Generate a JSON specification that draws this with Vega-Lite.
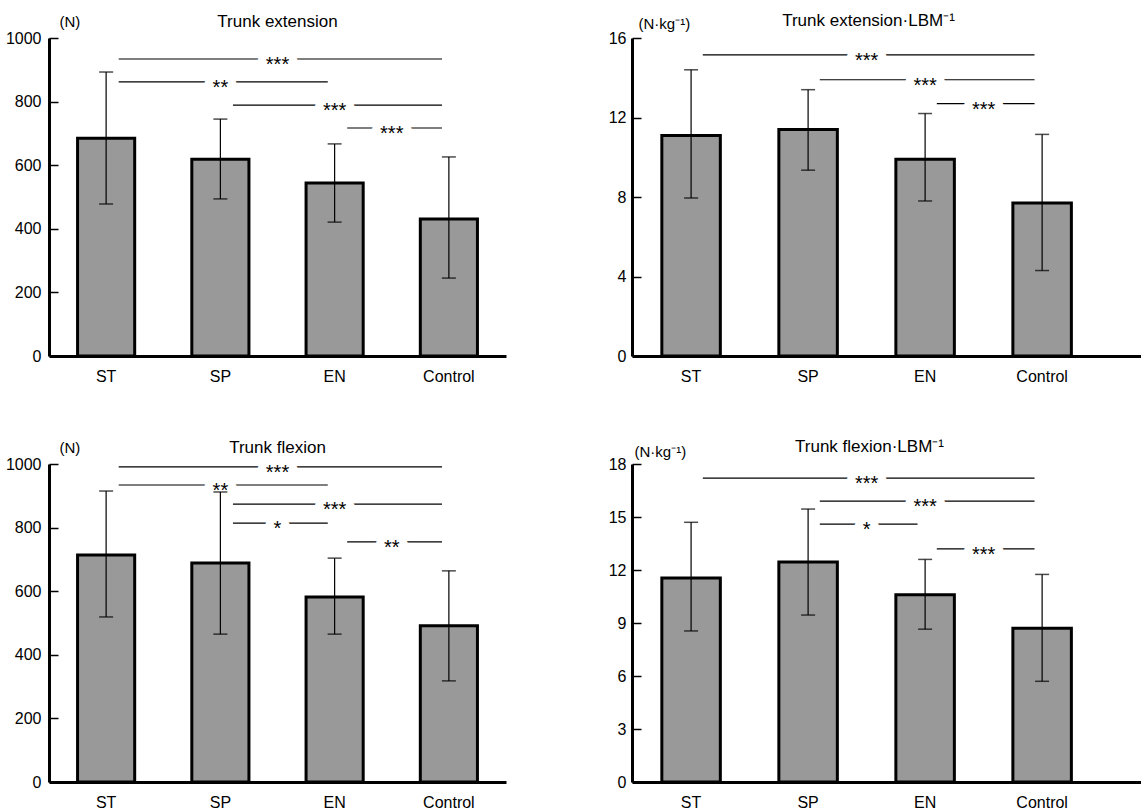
{
  "$schema": "https://vega.github.io/schema/vega-lite/v6.json",
  "padding": {"left": 5, "top": 12, "right": 0, "bottom": 0},
  "background": "white",
  "config": {
    "font": "Liberation Sans",
    "view": {"stroke": null},
    "axis": {"labelFontSize": 16, "labelColor": "black", "domainColor": "black", "tickColor": "black", "grid": false, "titleColor": "black", "titleFontWeight": "normal", "titleFontSize": 15},
    "axisY": {"domainWidth": 3, "tickSize": -9, "tickWidth": 1.5, "labelPadding": 17, "format": "d"},
    "axisX": {"domainWidth": 3, "ticks": false, "labelAngle": 0, "labelPadding": 12, "labelFontSize": 16},
    "title": {"fontSize": 17, "fontWeight": "normal", "color": "black", "baseline": "alphabetic", "frame": "group"},
    "text": {"baseline": "alphabetic"}
  },
  "datasets": {
    "bars": [
      {"panel": "ext", "group": "ST", "mean": 685, "lo": 478, "hi": 893},
      {"panel": "ext", "group": "SP", "mean": 619, "lo": 494, "hi": 745},
      {"panel": "ext", "group": "EN", "mean": 544, "lo": 421, "hi": 667},
      {"panel": "ext", "group": "Control", "mean": 431, "lo": 245, "hi": 626},
      {"panel": "extLBM", "group": "ST", "mean": 11.1, "lo": 7.95, "hi": 14.4},
      {"panel": "extLBM", "group": "SP", "mean": 11.4, "lo": 9.35, "hi": 13.4},
      {"panel": "extLBM", "group": "EN", "mean": 9.9, "lo": 7.8, "hi": 12.2},
      {"panel": "extLBM", "group": "Control", "mean": 7.7, "lo": 4.3, "hi": 11.15},
      {"panel": "flex", "group": "ST", "mean": 714, "lo": 519, "hi": 915},
      {"panel": "flex", "group": "SP", "mean": 689, "lo": 465, "hi": 912},
      {"panel": "flex", "group": "EN", "mean": 582, "lo": 465, "hi": 704},
      {"panel": "flex", "group": "Control", "mean": 491, "lo": 318, "hi": 664},
      {"panel": "flexLBM", "group": "ST", "mean": 11.55, "lo": 8.55, "hi": 14.7},
      {"panel": "flexLBM", "group": "SP", "mean": 12.45, "lo": 9.45, "hi": 15.45},
      {"panel": "flexLBM", "group": "EN", "mean": 10.6, "lo": 8.65, "hi": 12.6},
      {"panel": "flexLBM", "group": "Control", "mean": 8.7, "lo": 5.7, "hi": 11.75}
    ],
    "sig": [
      {"panel": "ext", "from": "ST", "to": "Control", "level": 934, "label": "***", "textAt": "SP", "between": true},
      {"panel": "ext", "from": "ST", "to": "EN", "level": 862, "label": "**", "textAt": "SP", "between": false},
      {"panel": "ext", "from": "SP", "to": "Control", "level": 789, "label": "***", "textAt": "EN", "between": false},
      {"panel": "ext", "from": "EN", "to": "Control", "level": 717, "label": "***", "textAt": "EN", "between": true},
      {"panel": "extLBM", "from": "ST", "to": "Control", "level": 15.15, "label": "***", "textAt": "SP", "between": true},
      {"panel": "extLBM", "from": "SP", "to": "Control", "level": 13.9, "label": "***", "textAt": "EN", "between": false},
      {"panel": "extLBM", "from": "EN", "to": "Control", "level": 12.7, "label": "***", "textAt": "EN", "between": true},
      {"panel": "flex", "from": "ST", "to": "Control", "level": 991, "label": "***", "textAt": "SP", "between": true},
      {"panel": "flex", "from": "ST", "to": "EN", "level": 934, "label": "**", "textAt": "SP", "between": false},
      {"panel": "flex", "from": "SP", "to": "Control", "level": 874, "label": "***", "textAt": "EN", "between": false},
      {"panel": "flex", "from": "SP", "to": "EN", "level": 814, "label": "*", "textAt": "SP", "between": true},
      {"panel": "flex", "from": "EN", "to": "Control", "level": 755, "label": "**", "textAt": "EN", "between": true},
      {"panel": "flexLBM", "from": "ST", "to": "Control", "level": 17.2, "label": "***", "textAt": "SP", "between": true},
      {"panel": "flexLBM", "from": "SP", "to": "Control", "level": 15.9, "label": "***", "textAt": "EN", "between": false},
      {"panel": "flexLBM", "from": "SP", "to": "EN", "level": 14.6, "label": "*", "textAt": "SP", "between": true},
      {"panel": "flexLBM", "from": "EN", "to": "Control", "level": 13.2, "label": "***", "textAt": "EN", "between": true}
    ]
  },
  "columns": 2,
  "align": "each",
  "bounds": "flush",
  "spacing": {"row": 108, "column": 126},
  "concat": [
    {
      "width": 457, "height": 318,
      "title": {"text": "Trunk extension", "offset": -17},
      "layer": [
        {"data": {"name": "bars"}, "transform": [{"filter": "datum.panel === 'ext'"}],
         "mark": {"type": "bar", "fill": "#999999", "stroke": "black", "strokeWidth": 3},
         "encoding": {
           "x": {"field": "group", "type": "nominal", "title": null, "scale": {"domain": ["ST", "SP", "EN", "Control"], "paddingInner": 0.5, "paddingOuter": 0.25}},
           "y": {"field": "mean", "type": "quantitative", "scale": {"domain": [0, 1000], "nice": false},
                 "axis": {"title": "(N)", "titleAngle": 0, "titleX": 10, "titleY": -12, "titleAlign": "left", "titleBaseline": "alphabetic", "values": [0, 200, 400, 600, 800, 1000]}}
         }},
        {"data": {"name": "sig"}, "transform": [{"filter": "datum.panel === 'ext'"}],
         "mark": {"type": "rule", "color": "black", "strokeWidth": 1.2},
         "encoding": {"x": {"field": "from", "type": "nominal", "bandPosition": 0.72}, "x2": {"field": "to", "bandPosition": 0.38}, "y": {"field": "level", "type": "quantitative"}}},
        {"data": {"name": "sig"}, "transform": [{"filter": "datum.panel === 'ext' && !datum.between"}],
         "mark": {"type": "text", "fontSize": 20, "dy": 12, "color": "white", "stroke": "white", "strokeWidth": 16},
         "encoding": {"x": {"field": "textAt", "type": "nominal", "bandPosition": 0.5}, "y": {"field": "level", "type": "quantitative"}, "text": {"field": "label"}}},
        {"data": {"name": "sig"}, "transform": [{"filter": "datum.panel === 'ext' && datum.between"}],
         "mark": {"type": "text", "fontSize": 20, "dy": 12, "color": "white", "stroke": "white", "strokeWidth": 16},
         "encoding": {"x": {"field": "textAt", "type": "nominal", "bandPosition": 1.5}, "y": {"field": "level", "type": "quantitative"}, "text": {"field": "label"}}},
        {"data": {"name": "sig"}, "transform": [{"filter": "datum.panel === 'ext' && !datum.between"}],
         "mark": {"type": "text", "fontSize": 20, "dy": 12, "color": "black"},
         "encoding": {"x": {"field": "textAt", "type": "nominal", "bandPosition": 0.5}, "y": {"field": "level", "type": "quantitative"}, "text": {"field": "label"}}},
        {"data": {"name": "sig"}, "transform": [{"filter": "datum.panel === 'ext' && datum.between"}],
         "mark": {"type": "text", "fontSize": 20, "dy": 12, "color": "black"},
         "encoding": {"x": {"field": "textAt", "type": "nominal", "bandPosition": 1.5}, "y": {"field": "level", "type": "quantitative"}, "text": {"field": "label"}}},
        {"data": {"name": "bars"}, "transform": [{"filter": "datum.panel === 'ext'"}],
         "mark": {"type": "rule", "color": "black", "strokeWidth": 1.2},
         "encoding": {"x": {"field": "group", "type": "nominal"}, "y": {"field": "lo", "type": "quantitative"}, "y2": {"field": "hi"}}},
        {"data": {"name": "bars"}, "transform": [{"filter": "datum.panel === 'ext'"}],
         "mark": {"type": "tick", "color": "black", "size": 14, "thickness": 1.5},
         "encoding": {"x": {"field": "group", "type": "nominal"}, "y": {"field": "lo", "type": "quantitative"}}},
        {"data": {"name": "bars"}, "transform": [{"filter": "datum.panel === 'ext'"}],
         "mark": {"type": "tick", "color": "black", "size": 14, "thickness": 1.5},
         "encoding": {"x": {"field": "group", "type": "nominal"}, "y": {"field": "hi", "type": "quantitative"}}}
      ]
    },
    {
      "width": 509, "height": 318,
      "title": {"text": "Trunk extension·LBM⁻¹", "dx": -18, "offset": -14},
      "layer": [
        {"data": {"name": "bars"}, "transform": [{"filter": "datum.panel === 'extLBM'"}],
         "mark": {"type": "bar", "fill": "#999999", "stroke": "black", "strokeWidth": 3},
         "encoding": {
           "x": {"field": "group", "type": "nominal", "title": null, "scale": {"domain": ["ST", "SP", "EN", "Control"], "paddingInner": 0.5, "paddingOuter": 0.425, "align": 0.3}},
           "y": {"field": "mean", "type": "quantitative", "scale": {"domain": [0, 16], "nice": false},
                 "axis": {"title": "(N·kg⁻¹)", "titleAngle": 0, "titleX": 6, "titleY": -10, "titleAlign": "left", "titleBaseline": "alphabetic", "values": [0, 4, 8, 12, 16], "labelPadding": 15}}
         }},
        {"data": {"name": "sig"}, "transform": [{"filter": "datum.panel === 'extLBM'"}],
         "mark": {"type": "rule", "color": "black", "strokeWidth": 1.2},
         "encoding": {"x": {"field": "from", "type": "nominal", "bandPosition": 0.7}, "x2": {"field": "to", "bandPosition": 0.37}, "y": {"field": "level", "type": "quantitative"}}},
        {"data": {"name": "sig"}, "transform": [{"filter": "datum.panel === 'extLBM' && !datum.between"}],
         "mark": {"type": "text", "fontSize": 20, "dy": 12, "color": "white", "stroke": "white", "strokeWidth": 16},
         "encoding": {"x": {"field": "textAt", "type": "nominal", "bandPosition": 0.5}, "y": {"field": "level", "type": "quantitative"}, "text": {"field": "label"}}},
        {"data": {"name": "sig"}, "transform": [{"filter": "datum.panel === 'extLBM' && datum.between"}],
         "mark": {"type": "text", "fontSize": 20, "dy": 12, "color": "white", "stroke": "white", "strokeWidth": 16},
         "encoding": {"x": {"field": "textAt", "type": "nominal", "bandPosition": 1.5}, "y": {"field": "level", "type": "quantitative"}, "text": {"field": "label"}}},
        {"data": {"name": "sig"}, "transform": [{"filter": "datum.panel === 'extLBM' && !datum.between"}],
         "mark": {"type": "text", "fontSize": 20, "dy": 12, "color": "black"},
         "encoding": {"x": {"field": "textAt", "type": "nominal", "bandPosition": 0.5}, "y": {"field": "level", "type": "quantitative"}, "text": {"field": "label"}}},
        {"data": {"name": "sig"}, "transform": [{"filter": "datum.panel === 'extLBM' && datum.between"}],
         "mark": {"type": "text", "fontSize": 20, "dy": 12, "color": "black"},
         "encoding": {"x": {"field": "textAt", "type": "nominal", "bandPosition": 1.5}, "y": {"field": "level", "type": "quantitative"}, "text": {"field": "label"}}},
        {"data": {"name": "bars"}, "transform": [{"filter": "datum.panel === 'extLBM'"}],
         "mark": {"type": "rule", "color": "black", "strokeWidth": 1.2},
         "encoding": {"x": {"field": "group", "type": "nominal"}, "y": {"field": "lo", "type": "quantitative"}, "y2": {"field": "hi"}}},
        {"data": {"name": "bars"}, "transform": [{"filter": "datum.panel === 'extLBM'"}],
         "mark": {"type": "tick", "color": "black", "size": 14, "thickness": 1.5},
         "encoding": {"x": {"field": "group", "type": "nominal"}, "y": {"field": "lo", "type": "quantitative"}}},
        {"data": {"name": "bars"}, "transform": [{"filter": "datum.panel === 'extLBM'"}],
         "mark": {"type": "tick", "color": "black", "size": 14, "thickness": 1.5},
         "encoding": {"x": {"field": "group", "type": "nominal"}, "y": {"field": "hi", "type": "quantitative"}}}
      ]
    },
    {
      "width": 457, "height": 318,
      "title": {"text": "Trunk flexion", "offset": -17},
      "layer": [
        {"data": {"name": "bars"}, "transform": [{"filter": "datum.panel === 'flex'"}],
         "mark": {"type": "bar", "fill": "#999999", "stroke": "black", "strokeWidth": 3},
         "encoding": {
           "x": {"field": "group", "type": "nominal", "title": null, "scale": {"domain": ["ST", "SP", "EN", "Control"], "paddingInner": 0.5, "paddingOuter": 0.25}},
           "y": {"field": "mean", "type": "quantitative", "scale": {"domain": [0, 1000], "nice": false},
                 "axis": {"title": "(N)", "titleAngle": 0, "titleX": 10, "titleY": -12, "titleAlign": "left", "titleBaseline": "alphabetic", "values": [0, 200, 400, 600, 800, 1000]}}
         }},
        {"data": {"name": "sig"}, "transform": [{"filter": "datum.panel === 'flex'"}],
         "mark": {"type": "rule", "color": "black", "strokeWidth": 1.2},
         "encoding": {"x": {"field": "from", "type": "nominal", "bandPosition": 0.72}, "x2": {"field": "to", "bandPosition": 0.38}, "y": {"field": "level", "type": "quantitative"}}},
        {"data": {"name": "sig"}, "transform": [{"filter": "datum.panel === 'flex' && !datum.between"}],
         "mark": {"type": "text", "fontSize": 20, "dy": 12, "color": "white", "stroke": "white", "strokeWidth": 16},
         "encoding": {"x": {"field": "textAt", "type": "nominal", "bandPosition": 0.5}, "y": {"field": "level", "type": "quantitative"}, "text": {"field": "label"}}},
        {"data": {"name": "sig"}, "transform": [{"filter": "datum.panel === 'flex' && datum.between"}],
         "mark": {"type": "text", "fontSize": 20, "dy": 12, "color": "white", "stroke": "white", "strokeWidth": 16},
         "encoding": {"x": {"field": "textAt", "type": "nominal", "bandPosition": 1.5}, "y": {"field": "level", "type": "quantitative"}, "text": {"field": "label"}}},
        {"data": {"name": "sig"}, "transform": [{"filter": "datum.panel === 'flex' && !datum.between"}],
         "mark": {"type": "text", "fontSize": 20, "dy": 12, "color": "black"},
         "encoding": {"x": {"field": "textAt", "type": "nominal", "bandPosition": 0.5}, "y": {"field": "level", "type": "quantitative"}, "text": {"field": "label"}}},
        {"data": {"name": "sig"}, "transform": [{"filter": "datum.panel === 'flex' && datum.between"}],
         "mark": {"type": "text", "fontSize": 20, "dy": 12, "color": "black"},
         "encoding": {"x": {"field": "textAt", "type": "nominal", "bandPosition": 1.5}, "y": {"field": "level", "type": "quantitative"}, "text": {"field": "label"}}},
        {"data": {"name": "bars"}, "transform": [{"filter": "datum.panel === 'flex'"}],
         "mark": {"type": "rule", "color": "black", "strokeWidth": 1.2},
         "encoding": {"x": {"field": "group", "type": "nominal"}, "y": {"field": "lo", "type": "quantitative"}, "y2": {"field": "hi"}}},
        {"data": {"name": "bars"}, "transform": [{"filter": "datum.panel === 'flex'"}],
         "mark": {"type": "tick", "color": "black", "size": 14, "thickness": 1.5},
         "encoding": {"x": {"field": "group", "type": "nominal"}, "y": {"field": "lo", "type": "quantitative"}}},
        {"data": {"name": "bars"}, "transform": [{"filter": "datum.panel === 'flex'"}],
         "mark": {"type": "tick", "color": "black", "size": 14, "thickness": 1.5},
         "encoding": {"x": {"field": "group", "type": "nominal"}, "y": {"field": "hi", "type": "quantitative"}}}
      ]
    },
    {
      "width": 509, "height": 318,
      "title": {"text": "Trunk flexion·LBM⁻¹", "dx": -17, "offset": -12},
      "layer": [
        {"data": {"name": "bars"}, "transform": [{"filter": "datum.panel === 'flexLBM'"}],
         "mark": {"type": "bar", "fill": "#999999", "stroke": "black", "strokeWidth": 3},
         "encoding": {
           "x": {"field": "group", "type": "nominal", "title": null, "scale": {"domain": ["ST", "SP", "EN", "Control"], "paddingInner": 0.5, "paddingOuter": 0.425, "align": 0.3}},
           "y": {"field": "mean", "type": "quantitative", "scale": {"domain": [0, 18], "nice": false},
                 "axis": {"title": "(N·kg⁻¹)", "titleAngle": 0, "titleX": 2, "titleY": -8, "titleAlign": "left", "titleBaseline": "alphabetic", "values": [0, 3, 6, 9, 12, 15, 18], "labelPadding": 15}}
         }},
        {"data": {"name": "sig"}, "transform": [{"filter": "datum.panel === 'flexLBM'"}],
         "mark": {"type": "rule", "color": "black", "strokeWidth": 1.2},
         "encoding": {"x": {"field": "from", "type": "nominal", "bandPosition": 0.7}, "x2": {"field": "to", "bandPosition": 0.37}, "y": {"field": "level", "type": "quantitative"}}},
        {"data": {"name": "sig"}, "transform": [{"filter": "datum.panel === 'flexLBM' && !datum.between"}],
         "mark": {"type": "text", "fontSize": 20, "dy": 12, "color": "white", "stroke": "white", "strokeWidth": 16},
         "encoding": {"x": {"field": "textAt", "type": "nominal", "bandPosition": 0.5}, "y": {"field": "level", "type": "quantitative"}, "text": {"field": "label"}}},
        {"data": {"name": "sig"}, "transform": [{"filter": "datum.panel === 'flexLBM' && datum.between"}],
         "mark": {"type": "text", "fontSize": 20, "dy": 12, "color": "white", "stroke": "white", "strokeWidth": 16},
         "encoding": {"x": {"field": "textAt", "type": "nominal", "bandPosition": 1.5}, "y": {"field": "level", "type": "quantitative"}, "text": {"field": "label"}}},
        {"data": {"name": "sig"}, "transform": [{"filter": "datum.panel === 'flexLBM' && !datum.between"}],
         "mark": {"type": "text", "fontSize": 20, "dy": 12, "color": "black"},
         "encoding": {"x": {"field": "textAt", "type": "nominal", "bandPosition": 0.5}, "y": {"field": "level", "type": "quantitative"}, "text": {"field": "label"}}},
        {"data": {"name": "sig"}, "transform": [{"filter": "datum.panel === 'flexLBM' && datum.between"}],
         "mark": {"type": "text", "fontSize": 20, "dy": 12, "color": "black"},
         "encoding": {"x": {"field": "textAt", "type": "nominal", "bandPosition": 1.5}, "y": {"field": "level", "type": "quantitative"}, "text": {"field": "label"}}},
        {"data": {"name": "bars"}, "transform": [{"filter": "datum.panel === 'flexLBM'"}],
         "mark": {"type": "rule", "color": "black", "strokeWidth": 1.2},
         "encoding": {"x": {"field": "group", "type": "nominal"}, "y": {"field": "lo", "type": "quantitative"}, "y2": {"field": "hi"}}},
        {"data": {"name": "bars"}, "transform": [{"filter": "datum.panel === 'flexLBM'"}],
         "mark": {"type": "tick", "color": "black", "size": 14, "thickness": 1.5},
         "encoding": {"x": {"field": "group", "type": "nominal"}, "y": {"field": "lo", "type": "quantitative"}}},
        {"data": {"name": "bars"}, "transform": [{"filter": "datum.panel === 'flexLBM'"}],
         "mark": {"type": "tick", "color": "black", "size": 14, "thickness": 1.5},
         "encoding": {"x": {"field": "group", "type": "nominal"}, "y": {"field": "hi", "type": "quantitative"}}}
      ]
    }
  ]
}
